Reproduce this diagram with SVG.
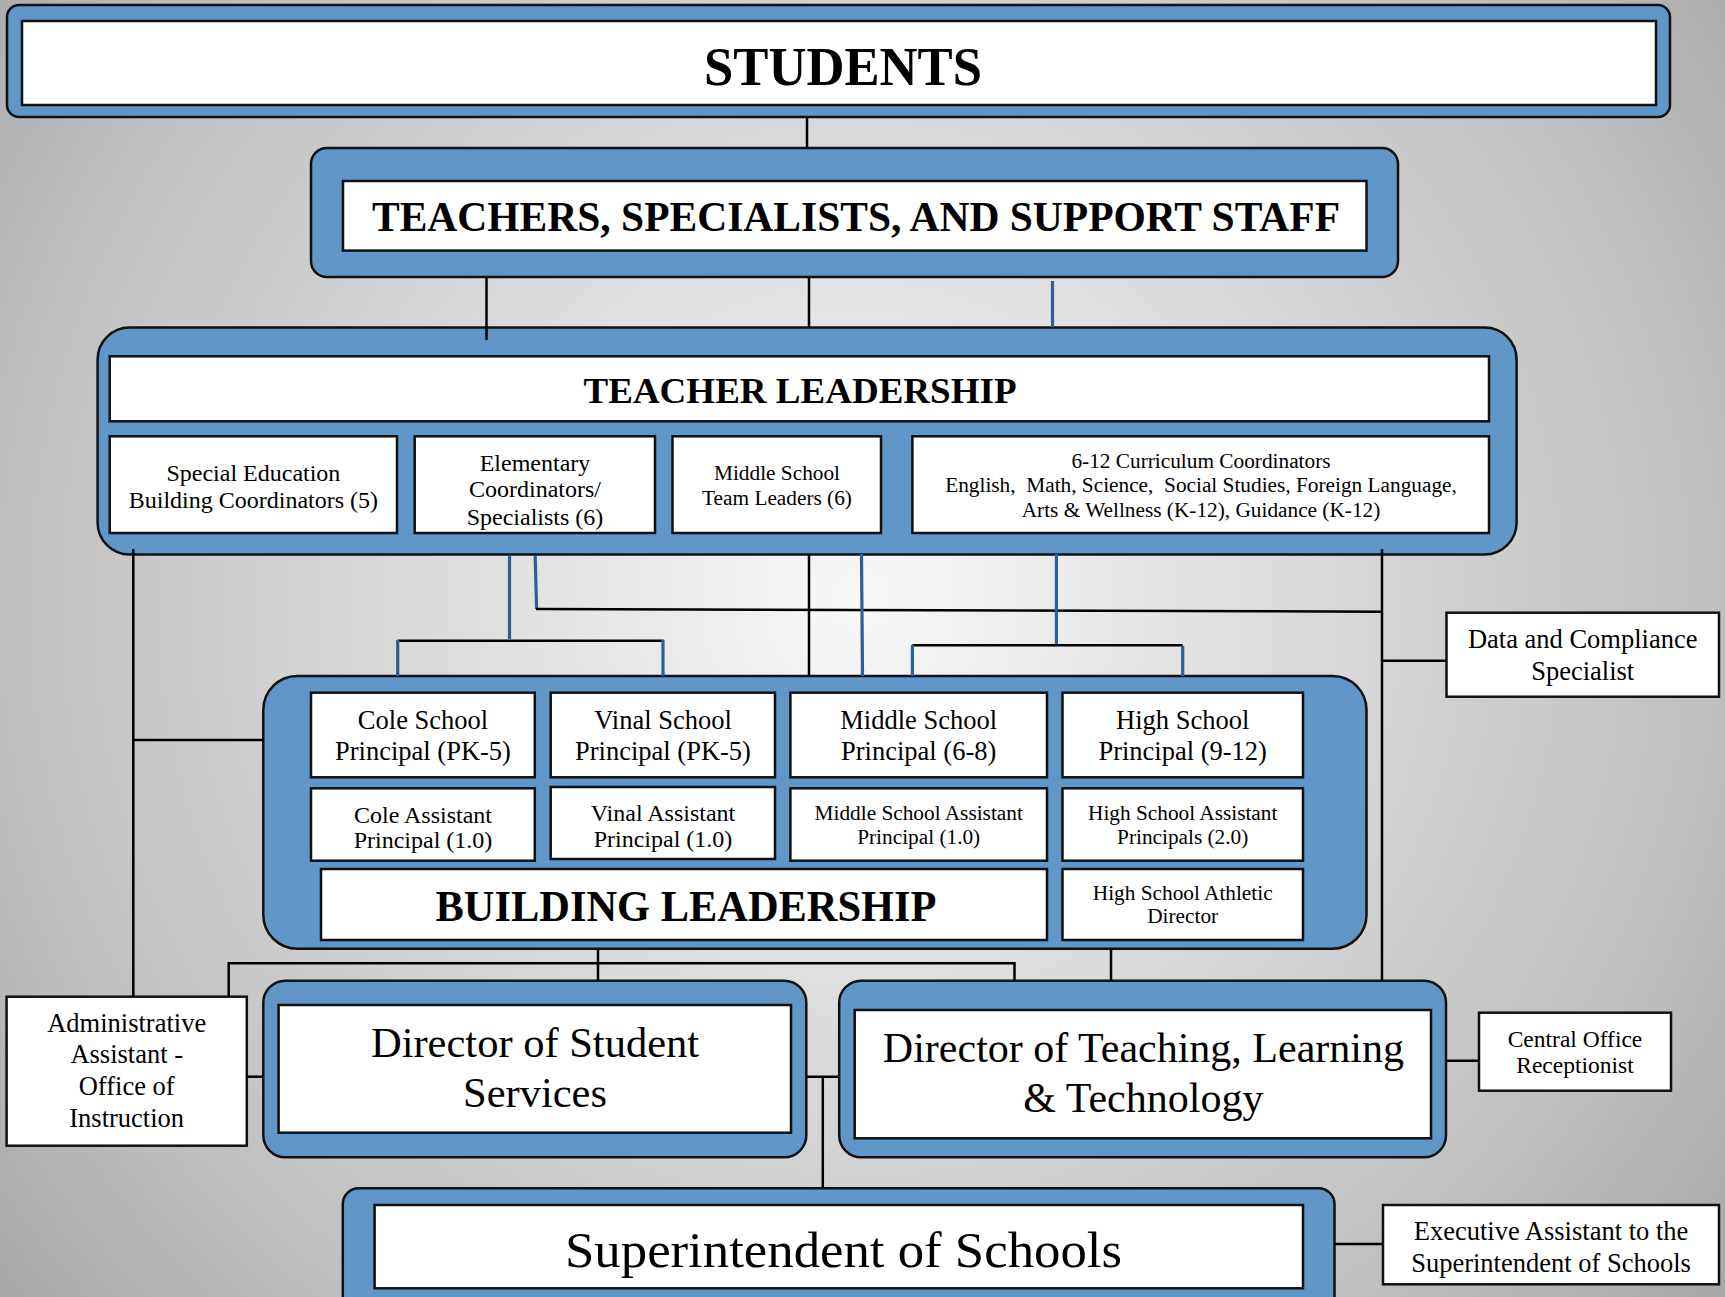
<svg xmlns="http://www.w3.org/2000/svg" width="1725" height="1297" viewBox="0 0 1725 1297">
<defs>
<radialGradient id="bg" gradientUnits="userSpaceOnUse" cx="860" cy="600" r="1100">
<stop offset="0" stop-color="#f8f8f8"/>
<stop offset="0.78" stop-color="#bfbfbf"/>
<stop offset="1" stop-color="#a8a8a8"/>
</radialGradient>
<style>
.frame{fill:#6196c9;stroke:#111;stroke-width:2.5}
.box{fill:#fff;stroke:#111;stroke-width:2.5}
.t{font-family:"Liberation Serif","Times New Roman",serif;fill:#000;text-anchor:middle}
.b{font-weight:bold}
.ln{stroke:#000;stroke-width:2.5;fill:none}
.bl{stroke:#2a5f98;stroke-width:3.2;fill:none}
</style>
</defs>
<rect x="0" y="0" width="1725" height="1297" fill="url(#bg)"/>

<g id="students">
<rect class="frame" x="7" y="5" width="1663" height="112" rx="12"/>
<rect class="box" x="22" y="21" width="1634" height="84"/>
<text class="t b" x="843" y="84.6" font-size="55" textLength="278" lengthAdjust="spacingAndGlyphs">STUDENTS</text>
</g>

<g id="teachers">
<rect class="frame" x="311" y="148" width="1087" height="129" rx="16"/>
<rect class="box" x="343" y="181" width="1023.5" height="69.6"/>
<text class="t b" x="856" y="231" font-size="42" textLength="968" lengthAdjust="spacingAndGlyphs">TEACHERS, SPECIALISTS, AND SUPPORT STAFF</text>
</g>

<g id="teacher-leadership">
<rect class="frame" x="97.6" y="327.4" width="1419" height="227" rx="32"/>
<rect class="box" x="109.7" y="356.3" width="1379.3" height="65"/>
<text class="t b" x="800" y="403.4" font-size="36" textLength="433" lengthAdjust="spacingAndGlyphs">TEACHER LEADERSHIP</text>
</g>

<g id="sped">
<rect class="box" x="109.7" y="436.3" width="287.3" height="96.7"/>
<text class="t" x="253.4" y="481" font-size="24">Special Education</text>
<text class="t" x="253.4" y="508" font-size="24">Building Coordinators (5)</text>
</g>
<g id="elementary">
<rect class="box" x="414.7" y="436.3" width="240.3" height="96.7"/>
<text class="t" x="535" y="470.5" font-size="24">Elementary</text>
<text class="t" x="535" y="497" font-size="24">Coordinators/</text>
<text class="t" x="535" y="525" font-size="24">Specialists (6)</text>
</g>
<g id="ms-team">
<rect class="box" x="672.5" y="436.3" width="208.5" height="96.7"/>
<text class="t" x="777" y="480" font-size="21.3">Middle School</text>
<text class="t" x="777" y="505" font-size="21.3">Team Leaders (6)</text>
</g>
<g id="curriculum">
<rect class="box" x="912.4" y="436.3" width="576.6" height="96.7"/>
<text class="t" x="1201" y="468" font-size="21.3">6-12 Curriculum Coordinators</text>
<text class="t" x="1201" y="492" font-size="21.3" style="white-space:pre">English,  Math, Science,  Social Studies, Foreign Language,</text>
<text class="t" x="1201" y="517" font-size="21.3">Arts &amp; Wellness (K-12), Guidance (K-12)</text>
</g>

<g id="building-leadership">
<rect class="frame" x="263.3" y="676" width="1103.2" height="272.7" rx="34"/>
<rect class="box" x="321" y="869" width="726" height="71"/>
<text class="t b" x="686" y="920.7" font-size="44" textLength="501" lengthAdjust="spacingAndGlyphs">BUILDING LEADERSHIP</text>
</g>
<g id="cole-principal">
<rect class="box" x="311" y="692.7" width="223.8" height="84.6"/>
<text class="t" x="423" y="728.5" font-size="26.5">Cole School</text>
<text class="t" x="423" y="760" font-size="26.5">Principal (PK-5)</text>
</g>
<g id="vinal-principal">
<rect class="box" x="550.7" y="692.7" width="224.3" height="84.6"/>
<text class="t" x="663" y="728.5" font-size="26.5">Vinal School</text>
<text class="t" x="663" y="760" font-size="26.5">Principal (PK-5)</text>
</g>
<g id="ms-principal">
<rect class="box" x="790.4" y="692.7" width="256.6" height="84.6"/>
<text class="t" x="918.7" y="728.5" font-size="26.5">Middle School</text>
<text class="t" x="918.7" y="760" font-size="26.5">Principal (6-8)</text>
</g>
<g id="hs-principal">
<rect class="box" x="1062.5" y="692.7" width="240.5" height="84.6"/>
<text class="t" x="1182.7" y="728.5" font-size="26.5">High School</text>
<text class="t" x="1182.7" y="760" font-size="26.5">Principal (9-12)</text>
</g>
<g id="cole-ap">
<rect class="box" x="311" y="788.3" width="223.8" height="72.4"/>
<text class="t" x="423" y="823" font-size="24">Cole Assistant</text>
<text class="t" x="423" y="848" font-size="24">Principal (1.0)</text>
</g>
<g id="vinal-ap">
<rect class="box" x="550.7" y="787" width="224.3" height="72"/>
<text class="t" x="663" y="821" font-size="24">Vinal Assistant</text>
<text class="t" x="663" y="846.5" font-size="24">Principal (1.0)</text>
</g>
<g id="ms-ap">
<rect class="box" x="790.4" y="788.3" width="256.6" height="72.4"/>
<text class="t" x="918.7" y="820" font-size="21.3">Middle School Assistant</text>
<text class="t" x="918.7" y="843.5" font-size="21.3">Principal (1.0)</text>
</g>
<g id="hs-ap">
<rect class="box" x="1062.5" y="788.3" width="240.5" height="72.4"/>
<text class="t" x="1182.7" y="820" font-size="21.3">High School Assistant</text>
<text class="t" x="1182.7" y="843.5" font-size="21.3">Principals (2.0)</text>
</g>
<g id="hs-athletic">
<rect class="box" x="1062.5" y="869" width="240.5" height="71"/>
<text class="t" x="1182.7" y="900" font-size="21.3">High School Athletic</text>
<text class="t" x="1182.7" y="923" font-size="21.3">Director</text>
</g>

<g id="data-compliance">
<rect class="box" x="1446.5" y="612.7" width="272.5" height="84"/>
<text class="t" x="1582.7" y="648" font-size="26.5">Data and Compliance</text>
<text class="t" x="1582.7" y="680" font-size="26.5">Specialist</text>
</g>

<g id="admin-assistant">
<rect class="box" x="6.6" y="996.7" width="240.2" height="149"/>
<text class="t" x="126.7" y="1031.7" font-size="26.5">Administrative</text>
<text class="t" x="126.7" y="1063.3" font-size="26.5">Assistant -</text>
<text class="t" x="126.7" y="1095" font-size="26.5">Office of</text>
<text class="t" x="126.7" y="1127.3" font-size="26.5">Instruction</text>
</g>

<g id="student-services">
<rect class="frame" x="263.3" y="980.7" width="543" height="176.6" rx="22"/>
<rect class="box" x="278.6" y="1005" width="512.4" height="127.7"/>
<text class="t" x="535" y="1056.7" font-size="42.5">Director of Student</text>
<text class="t" x="535" y="1106.7" font-size="42.5">Services</text>
</g>

<g id="teaching-learning">
<rect class="frame" x="839.2" y="980.7" width="606.8" height="176.6" rx="22"/>
<rect class="box" x="854.7" y="1010" width="576.3" height="128.3"/>
<text class="t" x="1143.4" y="1061.7" font-size="42">Director of Teaching, Learning</text>
<text class="t" x="1143.4" y="1111.7" font-size="42">&amp; Technology</text>
</g>

<g id="receptionist">
<rect class="box" x="1479" y="1012.7" width="192" height="78"/>
<text class="t" x="1575" y="1047.3" font-size="23.5">Central Office</text>
<text class="t" x="1575" y="1072.7" font-size="23.5">Receptionist</text>
</g>

<g id="superintendent">
<rect class="frame" x="342.8" y="1188.3" width="991.7" height="130" rx="16"/>
<rect class="box" x="374.6" y="1205" width="928.4" height="83.3"/>
<text class="t" x="843.5" y="1266.7" font-size="51" textLength="557" lengthAdjust="spacingAndGlyphs">Superintendent of Schools</text>
</g>

<g id="exec-assistant">
<rect class="box" x="1383" y="1205" width="336" height="79.3"/>
<text class="t" x="1551" y="1240" font-size="26.5">Executive Assistant to the</text>
<text class="t" x="1551" y="1271.7" font-size="26.5">Superintendent of Schools</text>
</g>

<g id="connectors">
<line class="ln" x1="807" y1="117" x2="807" y2="148"/>
<line class="ln" x1="486.5" y1="277" x2="486.5" y2="340"/>
<line class="ln" x1="809" y1="277" x2="809" y2="327.4"/>
<line class="bl" x1="1052.5" y1="281" x2="1052.5" y2="327"/>

<line class="ln" x1="133.3" y1="549" x2="133.3" y2="996.7"/>
<line class="ln" x1="133.3" y1="740" x2="263.3" y2="740"/>

<line class="bl" x1="509.5" y1="556" x2="509.5" y2="639"/>
<line class="ln" x1="397.7" y1="640.7" x2="663.7" y2="640.7"/>
<line class="bl" x1="397.7" y1="640" x2="397.7" y2="676"/>
<line class="bl" x1="663" y1="640" x2="663" y2="676"/>

<line class="bl" x1="535.2" y1="556" x2="536.6" y2="609"/>
<line class="ln" x1="536" y1="609" x2="1382" y2="611.7"/>

<line class="ln" x1="809" y1="554" x2="809" y2="676"/>
<line class="bl" x1="861.5" y1="554" x2="862.5" y2="676"/>

<line class="bl" x1="1056.4" y1="554" x2="1056.4" y2="646"/>
<line class="ln" x1="912.4" y1="645.3" x2="1182.7" y2="645.3"/>
<line class="bl" x1="912.4" y1="645" x2="912.4" y2="676"/>
<line class="bl" x1="1182.7" y1="646" x2="1182.7" y2="676"/>

<line class="ln" x1="1382" y1="549" x2="1382" y2="980.7"/>
<line class="ln" x1="1382" y1="660.7" x2="1446.5" y2="660.7"/>

<line class="ln" x1="598" y1="948.7" x2="598" y2="980.7"/>
<line class="ln" x1="228.7" y1="963.3" x2="1014.5" y2="963.3"/>
<line class="ln" x1="228.7" y1="962" x2="228.7" y2="996.7"/>
<line class="ln" x1="1014.5" y1="962" x2="1014.5" y2="980.7"/>
<line class="ln" x1="1111" y1="948.7" x2="1111" y2="980.7"/>

<line class="ln" x1="246.8" y1="1076.7" x2="263.3" y2="1076.7"/>
<line class="ln" x1="806.3" y1="1076.7" x2="839.2" y2="1076.7"/>
<line class="ln" x1="822.8" y1="1076.7" x2="822.8" y2="1188.3"/>
<line class="ln" x1="1446" y1="1060.7" x2="1479" y2="1060.7"/>
<line class="ln" x1="1334.5" y1="1244" x2="1383" y2="1244"/>
</g>

<text x="-2" y="1311" font-family="'Liberation Serif', serif" font-size="22" fill="#000">7</text>
</svg>
